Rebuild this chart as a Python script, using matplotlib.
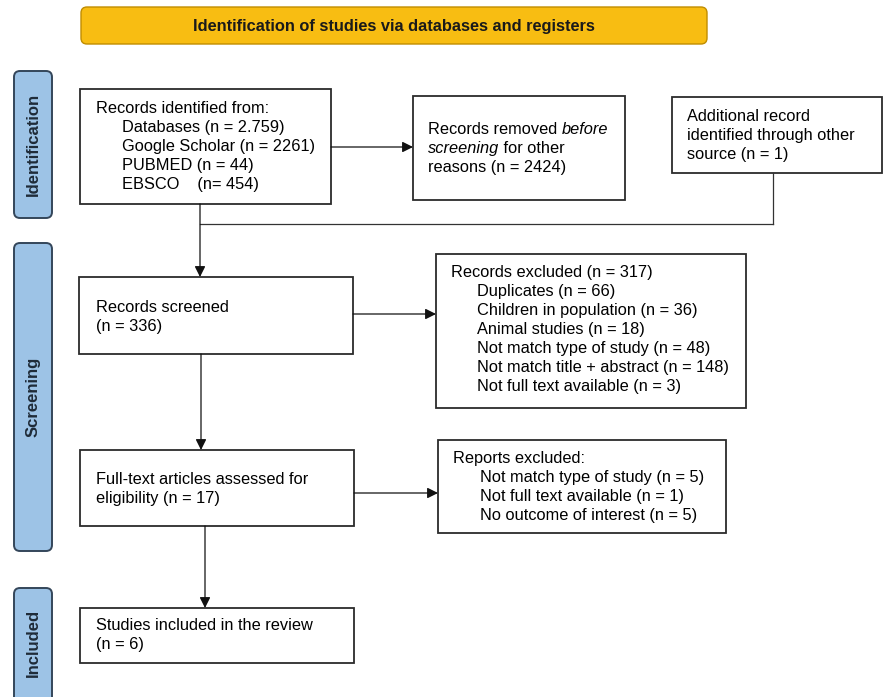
import matplotlib
matplotlib.use("Agg")
import matplotlib.pyplot as plt
from matplotlib.patches import FancyBboxPatch, Rectangle

plt.rcParams['font.family'] = ['Liberation Sans', 'DejaVu Sans']

# counts
sources = ['Databases', 'Google Scholar', 'PUBMED', 'EBSCO']
source_n = ['2.759', '2261', '44', '454']
removed_n = 2424
other_n = 1
screened_n = 336
excluded_total = 317
excl_reasons = ['Duplicates', 'Children in population', 'Animal studies',
                'Not match type of study', 'Not match title + abstract',
                'Not full text available']
excl_n = [66, 36, 18, 48, 148, 3]
fulltext_n = 17
report_reasons = ['Not match type of study', 'Not full text available',
                  'No outcome of interest']
report_n = [5, 1, 5]
included_n = 6

header = 'Identification of studies via databases and registers'
phases = ['Identification', 'Screening', 'Included']

W, H = 883, 697
fig = plt.figure(figsize=(W / 100, H / 100), dpi=100)
ax = fig.add_axes([0, 0, 1, 1])
ax.set_xlim(0, W)
ax.set_ylim(H, 0)
ax.axis('off')

FS = 11.8
LS = 19  # line step in px
BL = 5   # baseline offset from the line centre
EDGE = '#2b2b2b'


def box(x0, y0, x1, y1):
    ax.add_patch(Rectangle((x0, y0), x1 - x0, y1 - y0, fill=False,
                           ec=EDGE, lw=1.3))


def lines(x, y, rows):
    for i, r in enumerate(rows):
        dx, s = r if isinstance(r, tuple) else (0, r)
        ax.text(x + dx, round(y + i * LS) + BL, s, fontsize=FS,
                va='baseline', ha='left')


def arrow(x0, y0, x1, y1):
    ax.annotate('', xy=(x1, y1), xytext=(x0, y0),
                arrowprops=dict(arrowstyle='-|>', color='#111111', lw=0.9,
                                mutation_scale=16, shrinkA=0, shrinkB=0))


def seg(x0, y0, x1, y1):
    ax.plot([x0, x1], [y0, y1], color='#333333', lw=0.9)


# header
ax.add_patch(FancyBboxPatch((81, 7), 626, 37, boxstyle='round,pad=0,rounding_size=6',
                            fc='#F8BD12', ec='#C08D00', lw=1.0))
ax.text(394, 26, header, fontsize=11.8, fontweight='bold', ha='center', va='center',
        color='#1a1a1a')

# phase bars
bars = [(71, 218), (243, 551), (588, 712)]
for (y0, y1), name in zip(bars, phases):
    ax.add_patch(FancyBboxPatch((14, y0), 38, y1 - y0,
                                boxstyle='round,pad=0,rounding_size=6',
                                fc='#9DC3E6', ec='#34465A', lw=1.4))
    ax.text(33, (y0 + min(y1, 697)) / 2, name, rotation=90, fontsize=12,
            fontweight='bold', ha='center', va='center', color='#1F2B38')

# identified
box(80, 89, 331, 204)
rows = ['Records identified from:']
for s, n in zip(sources, source_n):
    if s == 'EBSCO':
        rows.append((26, f'{s}    (n= {n})'))
    else:
        rows.append((26, f'{s} (n = {n})'))
lines(96, 108, rows)

# removed before screening (mixed italic)
box(413, 96, 625, 200)
t1 = ax.text(428, 129 + BL, 'Records removed ', fontsize=FS, va='baseline', ha='left')
ax.annotate('before', xy=(1, 0), xycoords=t1, fontsize=FS, va='bottom', ha='left',
            style='italic')
t2 = ax.text(428, 129 + LS + BL, 'screening', fontsize=FS, va='baseline', ha='left',
             style='italic')
ax.annotate(' for other', xy=(1, 0), xycoords=t2, fontsize=FS, va='bottom', ha='left')
ax.text(428, 129 + 2 * LS + BL, f'reasons (n = {removed_n})', fontsize=FS,
        va='baseline', ha='left')

# other source
box(672, 97, 882, 173)
lines(687, 116, ['Additional record', 'identified through other',
                 f'source (n = {other_n})'])

# screened
box(79, 277, 353, 354)
lines(96, 307, ['Records screened', f'(n = {screened_n})'])

# records excluded
box(436, 254, 746, 408)
rows = [f'Records excluded (n = {excluded_total})']
rows += [(26, f'{r} (n = {n})') for r, n in zip(excl_reasons, excl_n)]
lines(451, 272, rows)

# full text
box(80, 450, 354, 526)
lines(96, 479, ['Full-text articles assessed for', f'eligibility (n = {fulltext_n})'])

# reports excluded
box(438, 440, 726, 533)
rows = ['Reports excluded:']
rows += [(27, f'{r} (n = {n})') for r, n in zip(report_reasons, report_n)]
lines(453, 458, rows)

# included
box(80, 608, 354, 663)
lines(96, 625, ['Studies included in the review', f'(n = {included_n})'])

# connectors
arrow(331, 147, 413, 147)
seg(773, 173, 773, 224)
seg(773, 224, 200, 224)
arrow(200, 204, 200, 277)
arrow(353, 314, 436, 314)
arrow(201, 354, 201, 450)
arrow(354, 493, 438, 493)
arrow(205, 526, 205, 608)

fig.savefig('out.png', dpi=100)
